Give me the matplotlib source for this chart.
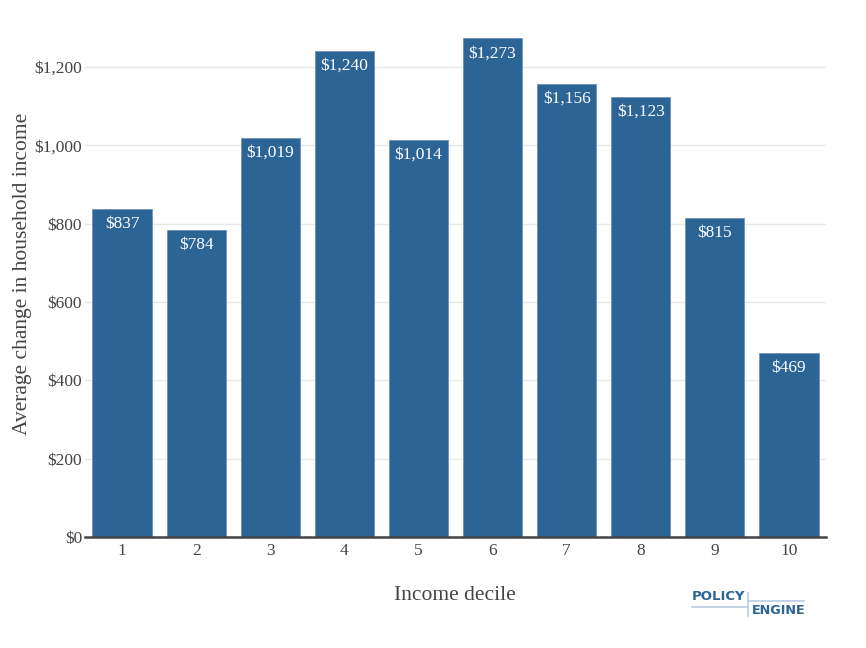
import matplotlib.pyplot as plt
import numpy as np

deciles = [1, 2, 3, 4, 5, 6, 7, 8, 9, 10]
avg_change = [837, 784, 1019, 1240, 1014, 1273, 1156, 1123, 815, 469]
ytick_vals = [0, 200, 400, 600, 800, 1000, 1200]
ytick_labels = ["$0", "$200", "$400", "$600", "$800", "$1,000", "$1,200"]

bar_color = "#2C6496"
text_color = "#444444"
serif = ["Liberation Serif"]

fig = plt.figure(figsize=(8.66, 6.48), dpi=100)
ax = fig.add_axes([85 / 866, 111 / 648, 741 / 866, 525 / 648])

bars = ax.bar(deciles, avg_change, width=0.8, color=bar_color,
              edgecolor="#6f93b5", linewidth=0.6, zorder=2)
for b, v in zip(bars, avg_change):
    ax.annotate(f"${v:,}", (b.get_x() + b.get_width() / 2, v),
                xytext=(0, -5), textcoords="offset points",
                ha="center", va="top", color="white", fontsize=12.5,
                family=serif, zorder=3)

ax.set_xlim(0.5, 10.5)
ax.set_ylim(0, 1340)
ax.set_yticks(ytick_vals)
ax.set_yticklabels(ytick_labels)
ax.set_xticks(deciles)
ax.grid(axis="y", color="#e8e8e8", linewidth=1, zorder=0)
for s in ["top", "right", "left"]:
    ax.spines[s].set_visible(False)
ax.spines["bottom"].set_color("#444444")
ax.spines["bottom"].set_linewidth(1.8)
ax.spines["bottom"].set_zorder(4)
ax.tick_params(axis="y", length=0, pad=2, labelsize=12.5, labelcolor=text_color)
ax.tick_params(axis="x", length=0, pad=4, labelsize=12.5, labelcolor=text_color)
for lab in ax.get_xticklabels() + ax.get_yticklabels():
    lab.set_family(serif)

fig.text(23 / 866, 1 - 274 / 648, "Average change in household income",
         rotation=90, ha="center", va="center",
         fontsize=15.5, color=text_color, family=serif)
fig.text(455 / 866, 1 - 596 / 648, "Income decile", ha="center", va="center",
         fontsize=15.5, color=text_color, family=serif)

# logo
fig.text(692 / 866, 1 - 597 / 648, "POLICY", ha="left", va="center",
         fontsize=9.5, fontweight="bold", color=bar_color, family="DejaVu Sans")
fig.text(752 / 866, 1 - 610 / 648, "ENGINE", ha="left", va="center",
         fontsize=9.2, fontweight="bold", color=bar_color, family="DejaVu Sans")
logo_line = "#b9cbe0"
fig.add_artist(plt.Line2D([692 / 866, 748 / 866], [1 - 607 / 648, 1 - 607 / 648],
                          color=logo_line, lw=1.2))
fig.add_artist(plt.Line2D([748 / 866, 748 / 866], [1 - 593 / 648, 1 - 616 / 648],
                          color=logo_line, lw=1.2))
fig.add_artist(plt.Line2D([748 / 866, 804 / 866], [1 - 601 / 648, 1 - 601 / 648],
                          color=logo_line, lw=1.2))

fig.savefig("out.png", dpi=100)
